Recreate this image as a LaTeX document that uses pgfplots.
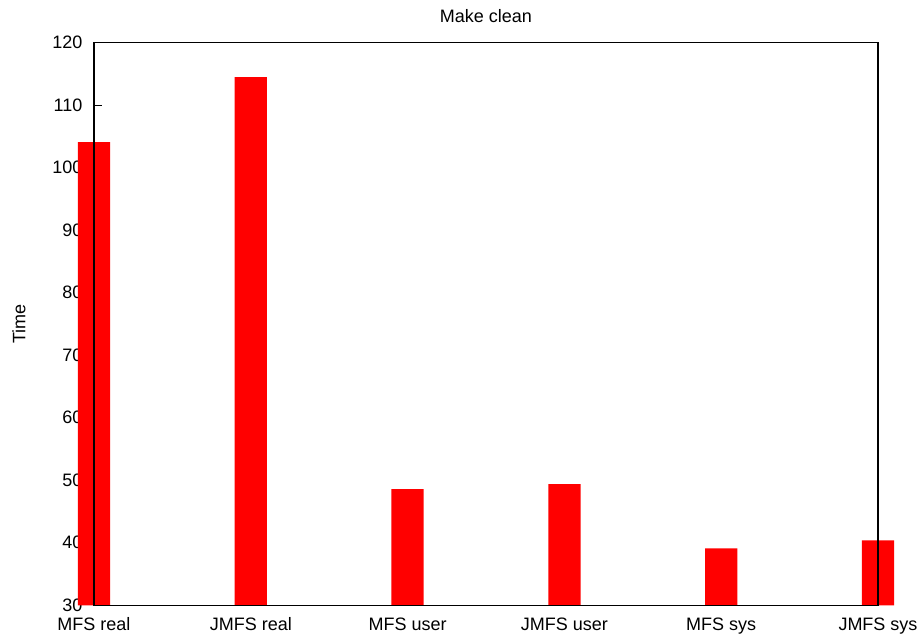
\documentclass[border=0pt]{standalone}
\usepackage{pgfplots}
\pgfplotsset{compat=1.18}
\usepackage{fontspec}
\setmainfont{Liberation Sans}
\pgfplotsset{
 layers/mine/.define layer set={axis background,axis ticks,axis tick labels,main,axis grid,axis lines,axis descriptions,axis foreground}{
  grid style={/pgfplots/on layer=axis grid},
  tick style={/pgfplots/on layer=axis ticks},
  axis line style={/pgfplots/on layer=axis lines},
  label style={/pgfplots/on layer=axis descriptions},
  legend style={/pgfplots/on layer=axis descriptions},
  title style={/pgfplots/on layer=axis descriptions},
  colorbar style={/pgfplots/on layer=axis descriptions},
  ticklabel style={/pgfplots/on layer=axis tick labels},
  axis background@ style={/pgfplots/on layer=axis background},
  3d box foreground style={/pgfplots/on layer=axis foreground},
 },
}
\begin{document}
\begin{tikzpicture}[font=\fontsize{9}{10.8}\selectfont]
\begin{axis}[name=ax, set layers=mine, scale only axis,
 width=392pt, height=281.3pt,
 xmin=0, xmax=5, ymin=30, ymax=120,
 y coord trafo/.code={\pgfmathparse{#1-30}},
 y coord inv trafo/.code={\pgfmathparse{#1+30}},
 clip=false,
 axis line style={line width=0.55pt},
 ytick={30,40,...,120},
 ytick pos=left,
 tick align=inside,
 major tick length=4pt,
 y tick style={line width=0.5pt, black},
 xtick={0,1,2,3,4,5},
 xticklabels={MFS real,JMFS real,MFS user,JMFS user,MFS sys,JMFS sys},
 x tick style={draw=none},
 /pgf/number format/assume math mode=true,
 yticklabel style={anchor=east, inner sep=0pt, xshift=-5.6pt},
 xticklabel style={anchor=north, inner sep=0pt, yshift=-6pt},
 title={Make clean},
 every axis title/.style={at={(rel axis cs:0.5,1)}, anchor=base, yshift=10pt, inner sep=0pt},
 ylabel={Time},
 every axis y label/.style={at={(rel axis cs:0,0.5)}, anchor=center, xshift=-37.5pt, rotate=90, inner sep=0pt},
]
\addplot[ybar, bar width=16.15pt, fill=red, draw=none] coordinates {
 (0,104.1) (1,114.5) (2,48.6) (3,49.4) (4,39.1) (5,40.4)
};
\end{axis}
\pgfresetboundingbox
\path ([shift={(-47pt,-17.35pt)}]ax.south west) rectangle ([shift={(22pt,21.35pt)}]ax.north east);
\end{tikzpicture}
\end{document}
